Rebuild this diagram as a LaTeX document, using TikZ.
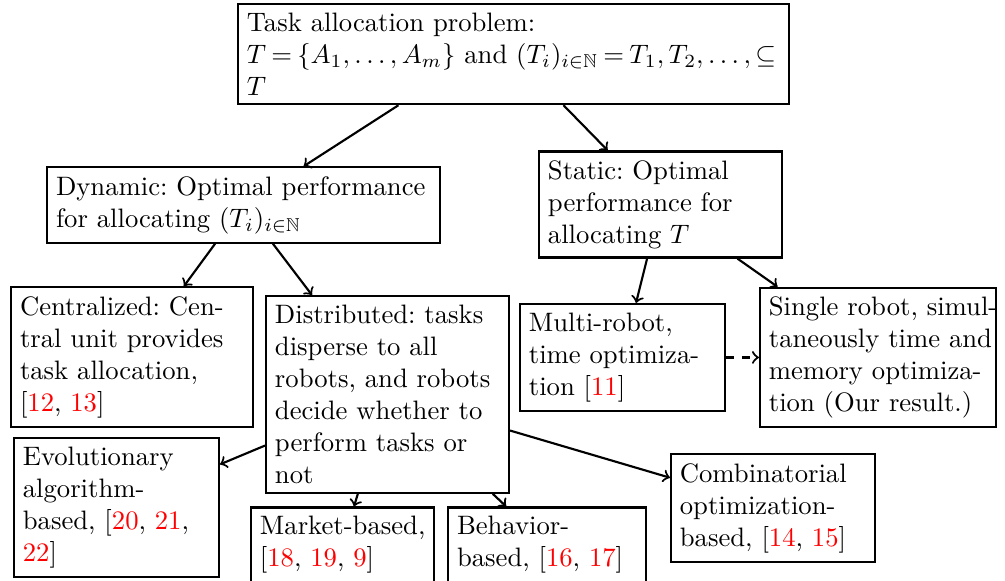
\documentclass[tikz,border=0pt]{standalone}
\usepackage{amssymb}
\usepackage{xcolor}
\newcommand{\rc}[1]{\textcolor{red}{#1}}
\tikzset{box/.style={shape=rectangle,draw=black,thick,align=left,
    execute at begin node={\hyphenpenalty=10000\exhyphenpenalty=10000\relpenalty=10000\binoppenalty=10000\hfuzz=40pt}}}
\begin{document}
\begin{tikzpicture}
      \useasboundingbox (0,0) rectangle (13.245,-7.657);

      \node[box,text width=199.9pt] (T) at (6.767,-0.712) {\thickmuskip=3.5mu Task~allocation~problem:\\ $T=\{A_1,\ldots,A_m\}$~and~$(T_i)_{i\in\mathbb{N}}=T_1,T_2,\ldots,\subseteq$\\ $T$};

      \node[box,text width=140.6pt] (D) at (3.209,-2.702) {Dynamic:~Optimal~performance\\ for~allocating~$(T_i)_{i\in\mathbb{N}}$};
      \node[box,text width=84.4pt] (S) at (8.705,-2.695) {Static:~Optimal\\ performance~for\\ allocating~$T$};

      \node[box,text width=84pt] (C) at (1.740,-4.705) {Centralized:~Cen-\\ tral~unit~provides\\ task~allocation,\\ {[}\rc{12},~\rc{13}]};
      \node[box,text width=84.4pt] (Di) at (5.107,-5.199) {Distributed:~tasks\\ disperse~to~all\\ robots,~and~robots\\ decide~whether~to\\ perform~tasks~or\\ not};
      \node[box,text width=70.2pt] (M) at (8.204,-4.711) {Multi-robot,\\ time~optimiza-\\ tion~[\rc{11}]};
      \node[box,text width=81.8pt] (Si) at (11.571,-4.711) {Single~robot,~simul-\\ taneously~time~and\\ memory~optimiza-\\ tion~(Our~result.)};

      \node[box,text width=70.2pt] (E) at (1.535,-6.688) {Evolutionary\\ algorithm-\\ based,~[\rc{20},~\rc{21},\\ \rc{22}]};
      \node[box,text width=61.9pt] (Mk) at (4.514,-7.183) {Market-based,\\ {[}\rc{18},~\rc{19},~\rc{9}]};
      \node[box,text width=67.5pt] (B) at (7.209,-7.183) {Behavior-\\ based,~[\rc{16},~\rc{17}]};
      \node[box,text width=69.8pt] (Co) at (10.187,-6.695) {Combinatorial\\ optimization-\\ based,~[\rc{14},~\rc{15}]};

      \draw[->,thick] (T.204) -- (D);
      \draw[->,thick] (T) -- (S);
      \draw[->,thick] (D) -- (C);
      \draw[->,thick] (D) -- (Di);
      \draw[->,thick] (S) -- (M);
      \draw[->,thick] (S) -- (Si);
      \draw[->,thick,dashed] (M) -- (Si);
      \draw[->,thick] (Di) -- (E);
      \draw[->,thick] (Di) -- (Mk);
      \draw[->,thick] (Di) -- (B);
      \draw[->,thick] (Di) -- (Co);
  \end{tikzpicture}
\end{document}
